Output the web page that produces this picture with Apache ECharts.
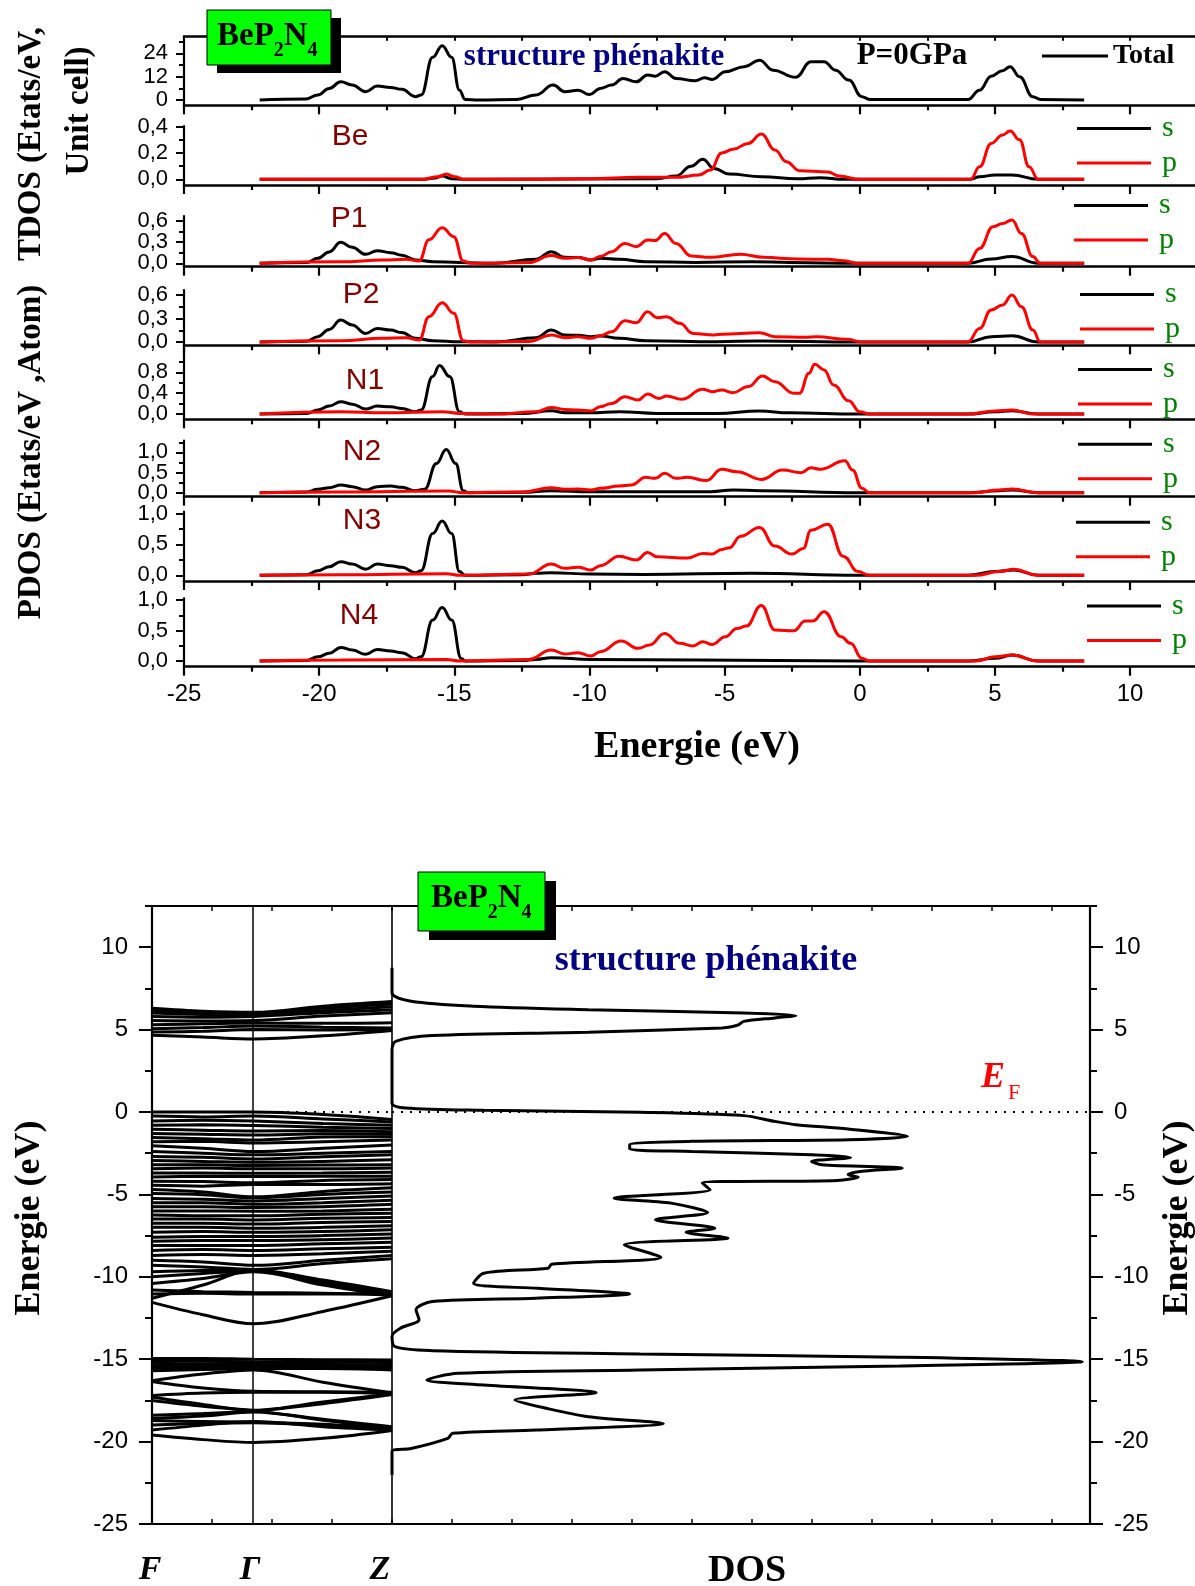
<!DOCTYPE html>
<html><head><meta charset="utf-8">
<script src="https://cdn.jsdelivr.net/npm/echarts@6/dist/echarts.min.js"></script>
<style>html,body{margin:0;padding:0;background:#fff}#c{width:1195px;height:1586px}</style>
</head><body><div id="c"></div>
<script>
// ---------------- DATA ----------------
const energyMajorTicks = [-25,-20,-15,-10,-5,0,5,10];
const energyMinorTicks = [-22.5,-17.5,-12.5,-7.5,-2.5,2.5,7.5];
const bandMajorTicks = [-25,-20,-15,-10,-5,0,5,10];
const bandMinorTicks = [-22.5,-17.5,-12.5,-7.5,-2.5,2.5,7.5,12.5];
const totalTicks=[0,12,24], totalMinor=[6,18,30];
const beTicks=[0,0.2,0.4], beMinor=[0.1,0.3];
const pTicks=[0,0.3,0.6], pMinor=[0.15,0.45];
const n1Ticks=[0,0.4,0.8], n1Minor=[0.2,0.6,1.0];
const nTicks=[0,0.5,1.0], nMinor=[0.25,0.75], n2Minor=[0.25,0.75,1.25];
const panelLabels = ['Be','P1','P2','N1','N2','N3','N4'];

const totalDOS = [[-22.2,0],[-20.5,0.5],[-20.05,2.6],[-19.63,6],[-19.2,9.4],[-18.78,7.7],[-18.28,4.3],[-17.85,7.2],[-17.36,6.5],[-16.94,5.5],[-16.44,1.7],[-16.23,2.6],[-15.8,22],[-15.45,28],[-15.1,22],[-14.81,5.1],[-14.6,0.3],[-14.1,0],[-12.69,0.3],[-11.98,2.6],[-11.34,7.7],[-10.92,4.3],[-10.42,5.1],[-10.0,2.8],[-9.6,6],[-9.18,7.7],[-8.76,11.1],[-8.27,9.4],[-7.85,12.9],[-7.57,12.3],[-7.22,14.6],[-6.8,11.1],[-6.09,9.9],[-5.74,11.5],[-5.46,10.6],[-4.97,14.6],[-4.27,17.2],[-3.71,20.5],[-3.21,15.4],[-2.37,11.7],[-1.81,19.7],[-1.32,19.7],[-0.9,15.4],[-0.41,10.3],[0.08,1.7],[0.36,0.3],[4.0,0.3],[4.43,5.1],[4.86,12.3],[5.28,15.1],[5.56,17.2],[5.91,12],[6.4,1.7],[6.68,0.3],[8.3,0]];

const beS = [[-22.2,0],[-16.2,0],[-15.7,0.01],[-15.45,0.025],[-15.1,0.005],[-14.6,0],[-7.5,0.005],[-6.8,0.025],[-6.24,0.1],[-5.81,0.152],[-5.39,0.083],[-4.83,0.04],[-3.63,0.02],[-2.3,0.005],[-1.47,0.013],[-0.6,0],[4.1,0],[4.43,0.02],[5.0,0.033],[5.63,0.033],[6.6,0],[8.3,0]];
const beP = [[-22.2,0],[-16.2,0],[-15.6,0.02],[-15.3,0.04],[-15.0,0.02],[-14.6,0],[-12,0],[-10,0.005],[-8.2,0.015],[-6.8,0.015],[-5.95,0.033],[-5.53,0.07],[-5.11,0.2],[-4.69,0.228],[-4.13,0.273],[-3.64,0.344],[-3.14,0.223],[-2.72,0.134],[-2.23,0.066],[-1.18,0.056],[-0.76,0.025],[0,0],[4.1,0],[4.43,0.096],[4.86,0.273],[5.28,0.337],[5.56,0.367],[5.91,0.3],[6.26,0.096],[6.6,0],[8.3,0]];

const p1S = [[-22.2,0],[-20.47,0.01],[-20.05,0.07],[-19.63,0.16],[-19.2,0.295],[-18.78,0.225],[-18.28,0.127],[-17.85,0.178],[-17.36,0.15],[-16.94,0.112],[-16.44,0.047],[-15.8,0.023],[-14.81,0.01],[-13.5,0],[-11.98,0.056],[-11.41,0.164],[-10.92,0.084],[-10.42,0.08],[-9.95,0.047],[-9.6,0.07],[-8.9,0.056],[-7.92,0.023],[-6.09,0.01],[-3.99,0.023],[-2.58,0.01],[-0.06,0],[4.0,0],[4.86,0.06],[5.63,0.094],[6.6,0],[8.3,0]];
const p1P = [[-22.2,0],[-19.2,0.02],[-17.64,0.047],[-16.8,0.056],[-16.3,0.033],[-15.94,0.33],[-15.45,0.5],[-15.02,0.375],[-14.67,0.033],[-14.4,0],[-12.25,0.01],[-11.41,0.108],[-10.92,0.07],[-10.42,0.08],[-9.95,0.047],[-9.6,0.094],[-9.18,0.164],[-8.69,0.28],[-8.27,0.234],[-7.85,0.328],[-7.57,0.32],[-7.22,0.42],[-6.8,0.28],[-6.24,0.103],[-5.53,0.084],[-4.41,0.127],[-3.57,0.084],[-2.3,0.061],[-1.18,0.056],[-0.62,0.037],[-0.06,0],[4.0,0],[4.43,0.21],[4.93,0.516],[5.28,0.56],[5.63,0.61],[5.98,0.42],[6.4,0.094],[6.68,0],[8.3,0]];

const p2S = [[-22.2,0],[-20.47,0.01],[-20.05,0.068],[-19.63,0.16],[-19.2,0.28],[-18.78,0.217],[-18.28,0.11],[-17.85,0.174],[-17.36,0.153],[-16.94,0.12],[-16.44,0.047],[-15.8,0.017],[-14.81,0.004],[-13.5,0],[-11.98,0.055],[-11.41,0.153],[-10.92,0.09],[-10.42,0.085],[-9.95,0.068],[-9.6,0.077],[-8.9,0.047],[-7.92,0.017],[-5.3,0.004],[-3.71,0.013],[-0.06,0],[4.0,0],[4.86,0.068],[5.63,0.08],[6.6,0],[8.3,0]];
const p2P = [[-22.2,0],[-19.2,0.017],[-17.64,0.047],[-16.8,0.055],[-16.3,0.025],[-15.94,0.323],[-15.45,0.5],[-15.02,0.366],[-14.67,0.017],[-14.4,0],[-12.25,0.005],[-11.41,0.09],[-10.92,0.055],[-10.42,0.068],[-9.95,0.047],[-9.6,0.08],[-9.18,0.13],[-8.69,0.27],[-8.27,0.247],[-7.85,0.387],[-7.5,0.31],[-7.15,0.323],[-6.66,0.238],[-6.17,0.11],[-5.39,0.09],[-5.11,0.1],[-3.71,0.119],[-3.14,0.068],[-2.02,0.06],[-1.6,0.068],[-0.48,0.034],[0.08,0],[4.0,0],[4.43,0.174],[4.86,0.41],[5.28,0.472],[5.63,0.6],[5.98,0.45],[6.4,0.153],[6.68,0],[8.3,0]];

const n1S = [[-22.2,0],[-20.47,0.01],[-20.05,0.077],[-19.63,0.154],[-19.2,0.237],[-18.78,0.19],[-18.28,0.096],[-17.85,0.154],[-17.36,0.14],[-16.94,0.109],[-16.44,0.045],[-16.23,0.077],[-15.8,0.72],[-15.55,0.93],[-15.17,0.72],[-14.81,0.045],[-14.6,0],[-12.5,0.01],[-11.41,0.064],[-10.9,0.025],[-9.95,0.025],[-8.9,0.045],[-7.5,0.013],[-5.3,0.013],[-3.71,0.058],[-2.6,0.025],[-0.06,0],[4.0,0],[5.0,0.045],[5.63,0.064],[6.6,0],[8.3,0]];
const n1P = [[-22.2,0],[-19.2,0.045],[-17.6,0.025],[-15.45,0.045],[-14.8,0.013],[-13.5,0],[-11.98,0.045],[-11.41,0.128],[-10.92,0.09],[-10.42,0.077],[-9.95,0.06],[-9.6,0.141],[-9.18,0.205],[-8.69,0.333],[-8.2,0.27],[-7.85,0.385],[-7.43,0.3],[-7.15,0.346],[-6.59,0.282],[-5.81,0.474],[-5.46,0.43],[-5.11,0.46],[-4.69,0.41],[-4.13,0.526],[-3.6,0.73],[-3.14,0.62],[-2.44,0.4],[-2.23,0.4],[-1.88,0.78],[-1.67,0.955],[-1.32,0.846],[-0.97,0.558],[-0.41,0.256],[0.0,0.045],[0.36,0],[4.0,0],[5.0,0.058],[5.63,0.077],[6.4,0],[8.3,0]];

const n2S = [[-22.2,0],[-20.47,0.017],[-20.05,0.083],[-19.63,0.124],[-19.2,0.19],[-18.78,0.15],[-18.28,0.066],[-17.85,0.15],[-17.36,0.165],[-16.94,0.132],[-16.44,0.05],[-16.1,0.083],[-15.66,0.727],[-15.3,1.07],[-14.95,0.727],[-14.67,0.05],[-14.5,0],[-12.5,0.008],[-11.41,0.05],[-9.95,0.025],[-5.5,0.025],[-4.69,0.066],[-3.7,0.05],[-0.06,0],[4.0,0],[5.14,0.05],[5.63,0.066],[6.6,0],[8.3,0]];
const n2P = [[-22.2,0],[-19.2,0.017],[-15.2,0.04],[-14.7,0],[-12.5,0.017],[-11.41,0.124],[-10.92,0.083],[-10.42,0.09],[-9.95,0.066],[-9.6,0.107],[-8.9,0.165],[-8.45,0.19],[-7.92,0.38],[-7.57,0.355],[-7.22,0.48],[-6.8,0.355],[-6.38,0.38],[-5.67,0.3],[-5.11,0.58],[-4.55,0.52],[-3.64,0.33],[-2.86,0.56],[-2.16,0.496],[-1.81,0.62],[-1.46,0.58],[-0.55,0.79],[-0.27,0.56],[0.08,0.107],[0.36,0],[4.3,0],[5.14,0.066],[5.63,0.09],[6.6,0],[8.3,0]];

const n3S = [[-22.2,0],[-20.47,0.01],[-20.05,0.075],[-19.63,0.14],[-19.2,0.22],[-18.78,0.183],[-18.28,0.1],[-17.85,0.183],[-17.36,0.156],[-16.94,0.13],[-16.44,0.043],[-16.23,0.075],[-15.8,0.677],[-15.45,0.88],[-15.1,0.677],[-14.81,0.06],[-14.6,0],[-12.5,0.01],[-11.98,0.032],[-11.41,0.043],[-9.95,0.02],[-8.0,0.015],[-4.0,0.032],[-0.06,0],[4.0,0],[5.0,0.06],[5.7,0.086],[6.6,0],[8.3,0]];
const n3P = [[-22.2,0],[-19.2,0.01],[-15.3,0.027],[-14.8,0],[-12.25,0.02],[-11.41,0.183],[-10.92,0.113],[-10.42,0.13],[-9.95,0.086],[-9.6,0.156],[-8.9,0.31],[-8.27,0.247],[-7.85,0.37],[-7.5,0.3],[-6.38,0.28],[-5.81,0.355],[-5.46,0.344],[-5.11,0.42],[-4.83,0.446],[-4.41,0.634],[-3.71,0.774],[-3.14,0.473],[-2.51,0.344],[-2.09,0.435],[-1.81,0.73],[-1.18,0.828],[-0.62,0.31],[-0.06,0.06],[0.36,0],[4.3,0],[5.14,0.06],[5.7,0.097],[6.6,0],[8.3,0]];

const n4S = [[-22.2,0],[-20.47,0.01],[-20.05,0.07],[-19.63,0.126],[-19.2,0.224],[-18.78,0.18],[-18.28,0.11],[-17.85,0.19],[-17.36,0.164],[-16.94,0.137],[-16.44,0.038],[-16.23,0.07],[-15.8,0.672],[-15.45,0.88],[-15.1,0.672],[-14.74,0.04],[-14.6,0],[-12.5,0.01],[-11.98,0.027],[-11.41,0.055],[-9.95,0.027],[-6.0,0.015],[-0.06,0],[4.0,0],[5.0,0.044],[5.63,0.098],[6.6,0],[8.3,0]];
const n4P = [[-22.2,0],[-19.2,0.015],[-15.3,0.027],[-14.8,0],[-12.25,0.027],[-11.41,0.18],[-10.92,0.115],[-10.42,0.137],[-9.95,0.082],[-9.6,0.153],[-8.83,0.328],[-8.2,0.208],[-7.78,0.262],[-7.22,0.454],[-6.66,0.29],[-6.17,0.246],[-5.81,0.317],[-5.46,0.273],[-4.97,0.4],[-4.55,0.535],[-4.2,0.574],[-3.64,0.913],[-3.14,0.508],[-2.44,0.497],[-2.02,0.656],[-1.74,0.656],[-1.32,0.81],[-0.69,0.4],[-0.34,0.29],[0.08,0.044],[0.36,0],[4.3,0],[5.0,0.07],[5.63,0.098],[6.6,0],[8.3,0]];

// band structure: k-path positions F, mid, Gamma, mid, Z
const kPath = [0, 0.2125, 0.425, 0.7125, 1.0];
const conductionBands = [
 [4.65,4.55,4.43,4.62,4.95],[4.85,4.9,5.0,4.98,5.02],[5.05,5.12,5.22,5.15,5.1],
 [5.3,5.35,5.4,5.38,5.42],[5.55,5.52,5.55,5.82,6.02],[5.8,5.75,5.8,6.02,6.2],
 [6.0,5.92,5.88,6.15,6.38],[6.15,6.02,5.98,6.3,6.55],[6.3,6.12,6.05,6.42,6.7]];
const upperValenceBands = [
 [0.0,0.0,0.0,-0.15,-0.45],[-0.25,-0.3,-0.25,-0.42,-0.6],[-0.55,-0.5,-0.55,-0.7,-0.8],
 [-0.8,-0.78,-0.82,-0.92,-1.0],[-1.05,-1.1,-1.15,-1.12,-1.2],[-1.3,-1.35,-1.4,-1.32,-1.35],
 [-1.55,-1.62,-1.7,-1.52,-1.5],[-1.8,-1.78,-1.88,-1.8,-1.7],[-2.05,-2.2,-2.4,-2.2,-2.0],
 [-2.4,-2.5,-2.6,-2.5,-2.4],[-2.7,-2.75,-2.85,-2.72,-2.6],[-2.95,-3.0,-3.05,-3.0,-2.9],
 [-3.2,-3.2,-3.25,-3.22,-3.2],[-3.45,-3.4,-3.45,-3.45,-3.4],[-3.7,-3.7,-3.72,-3.7,-3.65],
 [-3.95,-3.9,-3.92,-3.9,-3.9],[-4.2,-4.22,-4.3,-4.15,-4.1],[-4.45,-4.5,-4.4,-4.4,-4.35],
 [-4.7,-4.85,-5.15,-4.82,-4.6],[-4.95,-5.02,-5.2,-5.0,-4.85],[-5.25,-5.3,-5.4,-5.25,-5.1],
 [-5.5,-5.5,-5.6,-5.5,-5.35],[-5.75,-5.75,-5.8,-5.75,-5.6],[-6.0,-6.0,-6.02,-6.0,-5.9],
 [-6.25,-6.3,-6.3,-6.2,-6.15],[-6.5,-6.5,-6.55,-6.45,-6.4],[-6.75,-6.75,-6.8,-6.7,-6.65],
 [-7.0,-7.0,-7.05,-7.0,-6.9],[-7.3,-7.25,-7.3,-7.25,-7.15],[-7.6,-7.55,-7.55,-7.5,-7.4],
 [-7.85,-7.8,-7.8,-7.75,-7.65],[-8.1,-8.1,-8.1,-8.0,-7.9],[-8.4,-8.35,-8.4,-8.3,-8.2],
 [-8.7,-8.65,-8.7,-8.6,-8.45],[-9.0,-9.1,-9.3,-9.0,-8.7],[-9.3,-9.4,-9.55,-9.2,-8.9],
 [-9.7,-9.62,-9.6,-10.3,-11.05],[-10.0,-9.8,-9.65,-10.4,-11.1],[-10.4,-10.1,-9.7,-10.5,-11.15],
 [-10.8,-10.9,-10.95,-11.0,-11.1],[-11.05,-11.0,-11.05,-11.05,-11.0],[-11.3,-10.5,-9.6,-10.2,-10.9],
 [-11.55,-12.3,-12.85,-12.1,-11.15]];
const lowerValenceBands = [
 [-14.95,-14.95,-15.0,-15.03,-15.05],[-15.1,-15.12,-15.15,-15.18,-15.2],[-15.25,-15.28,-15.3,-15.32,-15.35],
 [-15.4,-15.42,-15.42,-15.4,-15.45],[-15.55,-15.52,-15.5,-15.5,-15.52],[-15.7,-15.62,-15.58,-15.57,-15.65],
 [-16.3,-15.9,-15.65,-16.4,-17.05],[-16.35,-16.75,-16.95,-16.98,-17.0],[-17.2,-17.05,-17.0,-17.0,-17.08],
 [-17.3,-17.75,-18.1,-17.6,-17.1],[-17.5,-17.85,-18.12,-18.65,-19.1],[-18.4,-18.3,-18.15,-17.7,-17.15],
 [-18.6,-18.45,-18.2,-18.7,-19.15],[-18.72,-18.78,-18.82,-18.95,-19.2],[-19.0,-18.9,-18.85,-19.02,-19.25],
 [-19.3,-19.0,-18.78,-19.1,-19.3],[-19.6,-19.88,-20.05,-19.8,-19.32]];
const gammaK = 0.425;

// total DOS (bottom panel): [DOS, Energy]
const dosCurve = [[0,8.75],[0,7.23],[0.32,6.72],[1.36,6.42],[3.27,6.21],[5.86,6.01],[6.73,5.85],[6.38,5.71],[5.86,5.5],[5.78,5.3],[5.69,5.2],[5.5,5.1],[3.27,4.84],[0.67,4.64],[0.06,4.29],[0,3.77],[0,0.55],[0.23,0.24],[1.53,0.1],[4.13,-0.02],[5.86,-0.22],[6.38,-0.57],[6.73,-0.77],[7.6,-1.03],[8.59,-1.48],[7.6,-1.68],[5.0,-1.78],[3.96,-1.99],[3.96,-2.25],[5.0,-2.39],[6.99,-2.6],[7.64,-2.76],[6.99,-3.0],[7.16,-3.2],[8.5,-3.41],[7.77,-3.62],[7.6,-3.81],[7.77,-3.95],[7.42,-4.15],[5.17,-4.31],[5.3,-4.72],[3.7,-5.23],[4.65,-5.53],[5.26,-6.1],[4.39,-6.54],[5.38,-7.05],[4.9,-7.3],[5.6,-7.65],[3.87,-8.06],[4.48,-8.81],[2.66,-9.24],[2.6,-9.48],[1.53,-9.78],[1.36,-10.39],[2.43,-10.7],[3.96,-11.04],[2.4,-11.3],[0.67,-11.5],[0.4,-12.0],[0.45,-12.6],[0.15,-13.1],[0,-13.6],[0.05,-14.24],[0.67,-14.48],[4.13,-14.68],[8.46,-14.88],[11.5,-15.15],[8.46,-15.41],[4.13,-15.66],[1.1,-15.86],[0.58,-16.26],[1.53,-16.57],[3.4,-17.03],[2.05,-17.48],[2.57,-17.98],[3.27,-18.49],[4.52,-18.9],[2.4,-19.3],[1.01,-19.5],[0.93,-19.8],[0.32,-20.42],[0,-20.6],[0,-22.03]];

// ---------------- LAYOUT / OPTION ----------------
const SANS = 'Liberation Sans', SERIF = 'Liberation Serif';
const comma = v => v.toFixed(1).replace('.', ',');
const plain = v => String(v);
const panels = [
 {top:36.7,h:68.6,min:-2.7,max:32.6,maj:totalTicks,mi:totalMinor,fmt:plain,series:[['Total',totalDOS,'#000']]},
 {top:126,h:59,min:-0.043,max:0.405,maj:beTicks,mi:beMinor,fmt:comma,series:[['s',beS,'#000'],['p',beP,'#ff0000']]},
 {top:216,h:50.7,min:-0.048,max:0.666,maj:pTicks,mi:pMinor,fmt:comma,series:[['s',p1S,'#000'],['p',p1P,'#ff0000']]},
 {top:290,h:55.3,min:-0.042,max:0.664,maj:pTicks,mi:pMinor,fmt:comma,series:[['s',p2S,'#000'],['p',p2P,'#ff0000']]},
 {top:348.3,h:71,min:-0.1,max:1.26,maj:n1Ticks,mi:n1Minor,fmt:comma,series:[['s',n1S,'#000'],['p',n1P,'#ff0000']]},
 {top:440.7,h:56,min:-0.1,max:1.29,maj:nTicks,mi:n2Minor,fmt:comma,series:[['s',n2S,'#000'],['p',n2P,'#ff0000']]},
 {top:511.7,h:69.3,min:-0.092,max:1.03,maj:nTicks,mi:nMinor,fmt:comma,series:[['s',n3S,'#000'],['p',n3P,'#ff0000']]},
 {top:598.3,h:68.4,min:-0.093,max:1.03,maj:nTicks,mi:nMinor,fmt:comma,series:[['s',n4S,'#000'],['p',n4P,'#ff0000']]}
];
const grids=[], xAxes=[], yAxes=[], series=[];
const AX = {color:'#000', width:2.2};
panels.forEach((p,i)=>{
  grids.push({left:184, top:p.top, width:1011, height:p.h, containLabel:false, outerBoundsMode:'none'});
  const xi = xAxes.length;
  xAxes.push({type:'value', gridIndex:i, min:-25, max:12.4, position:'bottom',
    axisLine:{onZero:false, lineStyle:{color:'#000', width:2.5}},
    axisTick:{show:true, inside:false, length:9, lineStyle:{color:'#000', width:2.2}, customValues:energyMajorTicks},
    axisLabel:{show:i===7, interval:0, showMinLabel:true, showMaxLabel:true, customValues:energyMajorTicks, fontFamily:SANS, fontSize:24, color:'#000', margin:16},
    splitLine:{show:false}});
  xAxes.push({type:'value', gridIndex:i, min:-25, max:12.4, position:'bottom',
    axisLine:{show:false, onZero:false},
    axisTick:{show:true, inside:false, length:5, lineStyle:{color:'#000', width:2.2}, customValues:energyMinorTicks},
    axisLabel:{show:false}, splitLine:{show:false}});
  const yi = yAxes.length;
  // main axis: line + major ticks
  yAxes.push({type:'value', gridIndex:i, min:p.min, max:p.max, position:'left',
    axisLine:{show:true, onZero:false, lineStyle:AX},
    axisTick:{show:true, inside:false, length:8, lineStyle:{color:'#000', width:2}, customValues:p.maj},
    axisLabel:{show:false}, splitLine:{show:false}});
  // minor ticks
  yAxes.push({type:'value', gridIndex:i, min:p.min, max:p.max, position:'left',
    axisLine:{show:false, onZero:false},
    axisTick:{show:true, inside:false, length:5, lineStyle:{color:'#000', width:2}, customValues:p.mi},
    axisLabel:{show:false}, splitLine:{show:false}});
  // one label axis per tick value (avoids automatic hiding of tight labels)
  p.maj.forEach(v=>{
    yAxes.push({type:'value', gridIndex:i, min:p.min, max:p.max, position:'left',
      axisLine:{show:false, onZero:false}, axisTick:{show:false},
      axisLabel:{show:true, customValues:[v], showMinLabel:true, showMaxLabel:true, formatter:p.fmt, fontFamily:SANS, fontSize:22, color:'#000', margin:16},
      splitLine:{show:false}});
  });
  p.series.forEach(([name,data,color])=>{
    series.push({type:'line', name, data, xAxisIndex:xi, yAxisIndex:yi, color,
      showSymbol:false, symbol:'none', smooth:0.45, smoothMonotone:'x',
      lineStyle:{color, width:3}, itemStyle:{color}, silent:true});
  });
});
// top frame of Total panel
xAxes.push({type:'value', gridIndex:0, min:-25, max:12.4, position:'top',
  axisLine:{onZero:false, lineStyle:{color:'#000', width:2.5}},
  axisTick:{show:true, inside:true, length:4, lineStyle:{color:'#000', width:2}, customValues:energyMajorTicks.concat(energyMinorTicks)},
  axisLabel:{show:false}, splitLine:{show:false}});

// bottom chart: band grid (8) & DOS grid (9)
grids.push({left:152, top:906, width:240, height:618, containLabel:false, outerBoundsMode:'none'});
grids.push({left:392, top:906, width:698, height:618, containLabel:false, outerBoundsMode:'none'});
const frameX = (g,pos,max,interval)=>({type:'value', gridIndex:g, min:0, max, interval, position:pos,
  axisLine:{onZero:false, lineStyle:{color:'#000', width:2.2}},
  axisTick:{show:true, inside:true, length:5, lineStyle:{color:'#000', width:1.5}},
  axisLabel:{show:false}, splitLine:{show:false}});
const bandX = xAxes.length;
xAxes.push(frameX(8,'bottom',1,0.25));
xAxes.push(frameX(8,'top',1,0.25));
const dosX = xAxes.length;
xAxes.push(frameX(9,'bottom',11.63,1));
xAxes.push(frameX(9,'top',11.63,1));
const energyY = (g,pos)=>([
  {type:'value', gridIndex:g, min:-25, max:12.5, position:pos,
   axisLine:{show:true, onZero:false, lineStyle:{color:'#000', width:2.2}},
   axisTick:{show:true, inside:false, interval:0, length:13, lineStyle:{color:'#000', width:2}, customValues:bandMajorTicks},
   axisLabel:{show:true, interval:0, showMinLabel:true, showMaxLabel:true, customValues:bandMajorTicks, fontFamily:SANS, fontSize:24, color:'#000', margin:24},
   splitLine:{show:false}},
  {type:'value', gridIndex:g, min:-25, max:12.5, position:pos,
   axisLine:{show:false, onZero:false},
   axisTick:{show:true, inside:false, interval:0, length:7, lineStyle:{color:'#000', width:2}, customValues:bandMinorTicks},
   axisLabel:{show:false}, splitLine:{show:false}}]);
const bandY = yAxes.length;
yAxes.push(...energyY(8,'left'));
const dosY = yAxes.length;
yAxes.push(...energyY(9,'right'));
yAxes.push({type:'value', gridIndex:9, min:-25, max:12.5, position:'left',
  axisLine:{show:true, onZero:false, lineStyle:{color:'#000', width:1.6}},
  axisTick:{show:false}, axisLabel:{show:false}, splitLine:{show:false}});

const allBands = conductionBands.concat(upperValenceBands, lowerValenceBands);
allBands.forEach((b,bi)=>{
  const s = {type:'line', name:'band', data:kPath.map((k,j)=>[k,b[j]]), xAxisIndex:bandX, yAxisIndex:bandY,
    showSymbol:false, symbol:'none', smooth:0.35, color:'#000', lineStyle:{color:'#000', width:3}, silent:true};
  if (bi===0) s.markLine = {silent:true, symbol:['none','none'], label:{show:false},
    data:[{xAxis:gammaK, lineStyle:{type:'solid', color:'#000', width:1.5}},
          {yAxis:0, lineStyle:{type:[2,7], color:'#000', width:2}}]};
  series.push(s);
});
series.push({type:'line', name:'DOS', data:dosCurve, xAxisIndex:dosX, yAxisIndex:dosY,
  showSymbol:false, symbol:'none', smooth:0.3, color:'#000', lineStyle:{color:'#000', width:3}, silent:true,
  markLine:{silent:true, symbol:['none','none'], label:{show:false},
    data:[{yAxis:0, lineStyle:{type:[2,7], color:'#000', width:2}}]}});

// legends
const legends = [{data:['Total'], left:1042, top:40, orient:'vertical', padding:0, itemWidth:66, itemHeight:3, icon:'rect', selectedMode:false,
  textStyle:{fontFamily:SERIF, fontWeight:'bold', fontSize:28, color:'#000', lineHeight:32}}];
const legendPos = [[1077,128.6],[1074,205.4],[1080,294.6],[1078,369.6],[1078,444.2],[1076,522.3],[1087,606]];
legendPos.forEach(([lx,sy])=>{
  legends.push({data:['s','p'], left:lx, top:sy-17.25, orient:'vertical', padding:0, itemGap:0, itemWidth:74, itemHeight:3, icon:'rect', selectedMode:false,
    textStyle:{fontFamily:SERIF, fontSize:30, color:'#008000', lineHeight:34.5, padding:[0,0,0,6]}});
});

// graphics (texts & boxes)
const T = (x,y,text,font,fill,extra)=>Object.assign({type:'text', x, y, silent:true, z:100,
  style:{text, font, fill, align:'center', verticalAlign:'middle', textAlign:'center', textVerticalAlign:'middle'}}, extra||{});
const TL = (x,y,text,font,fill)=>({type:'text', x, y, silent:true, z:101,
  style:{text, font, fill, align:'left', verticalAlign:'middle', textAlign:'left', textVerticalAlign:'middle'}});
const box = (x,y,w,h,dx,dy)=>[
  {type:'rect', shape:{x:x+dx,y:y+dy,width:w,height:h}, style:{fill:'#000'}, z:98, silent:true},
  {type:'rect', shape:{x,y,width:w,height:h}, style:{fill:'#00ff00', stroke:'#000', lineWidth:1}, z:99, silent:true}];
const boxText = (x0,yMain,ySub)=>{
  const F='bold 33px "Liberation Serif"', S='bold 20px "Liberation Serif"';
  return [TL(x0,yMain,'BeP',F,'#000'), TL(x0+56.8,ySub,'2',S,'#000'), TL(x0+66.8,yMain,'N',F,'#000'), TL(x0+90.6,ySub,'4',S,'#000')];
};
const R90 = Math.PI/2;
const labelPos = [[350,137],[349,219],[361,295],[365,381],[362,452],[362,521],[359,616]];
const elements = [
  ...box(207,10,124,55,10,8), ...boxText(217,36,51),
  T(594,57,'structure phénakite','bold 31px "Liberation Serif"','#000080'),
  T(912,56,'P=0GPa','bold 31px "Liberation Serif"','#000'),
  ...panelLabels.map((t,i)=>T(labelPos[i][0],labelPos[i][1],t,'30px "Liberation Sans"','#800000')),
  T(697,747,'Energie (eV)','bold 38px "Liberation Serif"','#000'),
  T(31,144,'TDOS (Etats/eV,','bold 33px "Liberation Serif"','#000',{rotation:R90}),
  T(79,111,'Unit cell)','bold 33px "Liberation Serif"','#000',{rotation:R90}),
  T(31,452,'PDOS (Etats/eV ,Atom)','bold 33px "Liberation Serif"','#000',{rotation:R90}),
  ...box(418,872,127,59,11,9), ...boxText(431,898,913),
  T(706,961,'structure phénakite','bold 36px "Liberation Serif"','#000080'),
  T(993,1078,'E','bold italic 36px "Liberation Serif"','#ff0000'),
  T(1014,1093,'F','22px "Liberation Serif"','#ff0000'),
  T(150,1570,'F','bold italic 34px "Liberation Serif"','#000'),
  T(250,1570,'Γ','bold italic 34px "Liberation Serif"','#000'),
  T(380,1570,'Z','bold italic 34px "Liberation Serif"','#000'),
  T(747,1571,'DOS','bold 38px "Liberation Serif"','#000'),
  T(30,1218,'Energie (eV)','bold 36px "Liberation Serif"','#000',{rotation:R90}),
  T(1178,1218,'Energie (eV)','bold 36px "Liberation Serif"','#000',{rotation:R90})
];

const chart = echarts.init(document.getElementById('c'), null, {renderer:'canvas'});
chart.setOption({animation:false, backgroundColor:'#fff', grid:grids, xAxis:xAxes, yAxis:yAxes,
  legend:legends, series, graphic:{elements}});
</script></body></html>
